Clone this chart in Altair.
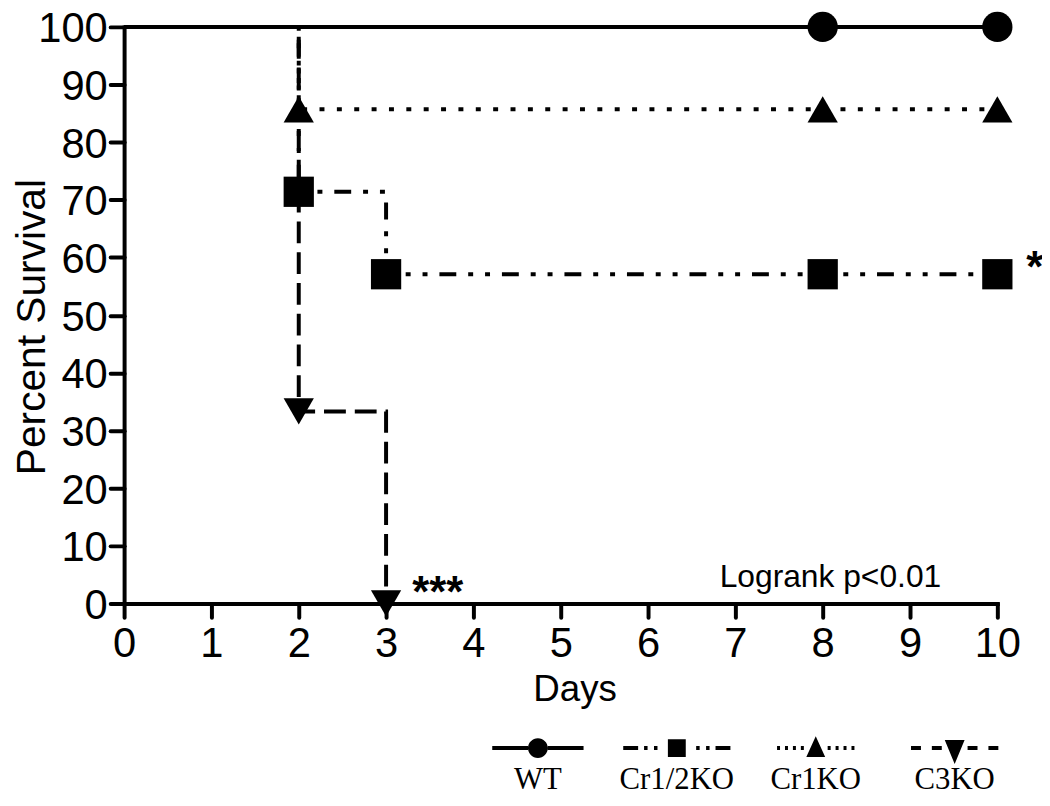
import altair as alt
import pandas as pd

# ---------------- data ----------------
groups = ["WT", "Cr1/2KO", "Cr1KO", "C3KO"]

wt_days = [0, 8, 10]
wt_surv = [100, 100, 100]
cr12_days = [0, 2, 3, 8, 10]
cr12_surv = [100, 71.4, 57.1, 57.1, 57.1]
cr1_days = [0, 2, 8, 10]
cr1_surv = [100, 85.7, 85.7, 85.7]
c3_days = [0, 2, 3]
c3_surv = [100, 33.3, 0]

x_ticks = list(range(0, 11))
y_ticks = list(range(0, 101, 10))

star_text = ["***", "*"]
star_x = [3.30, 10.33]
star_y = [-0.7, 55.7]

note_text = ["Logrank p<0.01"]
note_x = [6.82]
note_y = [2.9]

# ---------------- tables ----------------
rows = []
for g, ds, ss in zip(groups, [wt_days, cr12_days, cr1_days, c3_days],
                     [wt_surv, cr12_surv, cr1_surv, c3_surv]):
    for d, s in zip(ds, ss):
        rows.append({"group": g, "day": d, "surv": s})
df = pd.DataFrame(rows)
stars = pd.DataFrame({"t": star_text, "day": star_x, "surv": star_y})
notes = pd.DataFrame({"t": note_text, "day": note_x, "surv": note_y})

# ---------------- styles ----------------
plot_dashes = [[1, 0], [17, 12, 5, 12, 5, 12], [5, 12.5], [22, 9]]
plot_shapes = ["circle", "square", "triangle-up", "triangle-down"]

SYM = 961.0
U = (SYM ** 0.5) / 2.0   # px per path unit
LIFT = 17.0              # legend line sits this far above the label anchor
SHIFT = U                # move glyph right so it is centred over the label
HT = 2.0                 # half thickness of legend line


def fx(v):
    return f"{(v + SHIFT) / U:.3f}"


def fy(v):
    return f"{v / U:.3f}"


def rect(x0, x1):
    y0, y1 = -LIFT - HT, -LIFT + HT
    return f"M{fx(x0)},{fy(y0)}H{fx(x1)}V{fy(y1)}H{fx(x0)}Z"


def sym(segs):
    out = ""
    for a, b in segs:
        out += rect(-b, -a) + rect(a, b)
    return out


cy = -LIFT
r = 10.0
rr = f"{r / U:.3f}"
leg_paths = [
    sym([(10, 46)]) +
    f"M{fx(-r)},{fy(cy)}A{rr},{rr} 0 1,1 {fx(r)},{fy(cy)}A{rr},{rr} 0 1,1 {fx(-r)},{fy(cy)}Z",
    sym([(19.5, 23), (29.5, 33), (39, 54)]) +
    f"M{fx(-9)},{fy(cy - 9)}H{fx(9)}V{fy(cy + 9)}H{fx(-9)}Z",
    sym([(12 + 8 * k, 15 + 8 * k) for k in range(4)]) +
    f"M{fx(0)},{fy(cy - 12)}L{fx(9.5)},{fy(cy + 9)}L{fx(-9.5)},{fy(cy + 9)}Z",
    sym([(13, 23), (34, 44)]) +
    f"M{fx(-10)},{fy(cy - 8)}L{fx(10)},{fy(cy - 8)}L{fx(0)},{fy(cy + 16)}Z",
]

# ---------------- encodings ----------------
x_enc = alt.X("day:Q", scale=alt.Scale(domain=[0, 10], nice=False, zero=False),
              axis=alt.Axis(values=x_ticks, format="d", title="Days", labelPadding=6,
                            labelFlush=False, labelOverlap=False,
                            titleX=454, titleY=98, titleBaseline="alphabetic",
                            titleAlign="center", titleFontSize=37))
y_enc = alt.Y("surv:Q", scale=alt.Scale(domain=[0, 100], nice=False),
              axis=alt.Axis(values=y_ticks, format="d", title="Percent Survival",
                            labelPadding=3, labelOffset=2,
                            labelFlush=False, labelOverlap=False,
                            titleAngle=270, titleX=-80, titleY=302,
                            titleBaseline="alphabetic", titleAlign="center",
                            titleFontSize=41))

base = alt.Chart(df)

lines = base.mark_line(interpolate="step-after", strokeWidth=4, color="black",
                       strokeCap="butt").encode(
    x=x_enc, y=y_enc,
    strokeDash=alt.StrokeDash("group:N", scale=alt.Scale(domain=groups, range=plot_dashes),
                              legend=None),
    detail="group:N",
)

points = base.transform_filter(alt.datum.day > 0).mark_point(
    filled=True, color="black", size=930, opacity=1, strokeWidth=0).encode(
    x="day:Q", y="surv:Q",
    shape=alt.Shape("group:N", scale=alt.Scale(domain=groups, range=plot_shapes), legend=None),
)

legend_layer = base.transform_filter(alt.datum.day < 0).mark_point(
    filled=True, color="black", opacity=1).encode(
    x="day:Q", y="surv:Q",
    shape=alt.Shape("group:N", scale=alt.Scale(domain=groups, range=leg_paths),
                    legend=alt.Legend(title=None, orient="none", legendX=386, legendY=728,
                                      direction="horizontal", columns=4,
                                      symbolSize=SYM, symbolStrokeWidth=0,
                                      symbolOpacity=1,
                                      symbolFillColor="black", symbolStrokeColor="black",
                                      labelFont="Liberation Serif", labelFontSize=31,
                                      labelColor="black", labelAlign="center",
                                      labelBaseline="top", labelOffset=0,
                                      columnPadding=24, gridAlign="all", padding=0)),
)

star_layer = alt.Chart(stars).mark_text(font="Liberation Sans", fontSize=44,
                                        fontWeight="bold", align="left",
                                        baseline="alphabetic", color="black").encode(
    x="day:Q", y="surv:Q", text="t:N")

note_layer = alt.Chart(notes).mark_text(font="Liberation Sans", fontSize=32,
                                        align="left", baseline="alphabetic",
                                        color="black").encode(
    x="day:Q", y="surv:Q", text="t:N")

chart = alt.layer(lines, points, legend_layer, star_layer, note_layer).resolve_scale(
    shape="independent"
).properties(
    width=880, height=581,
    padding={"left": 117, "top": 16, "right": 45, "bottom": 188},
    autosize=alt.AutoSizeParams(type="none"),
).configure_view(stroke=None).configure_axis(
    domainColor="black", domainWidth=4, domainCap="square",
    tickColor="black", tickWidth=4, tickSize=14, tickCap="round",
    labelFont="Liberation Sans", labelFontSize=42, labelColor="black",
    titleFont="Liberation Sans", titleColor="black", titleFontWeight="normal",
    grid=False,
)

chart.save("out.html", embed_options={"renderer": "svg", "actions": False})
